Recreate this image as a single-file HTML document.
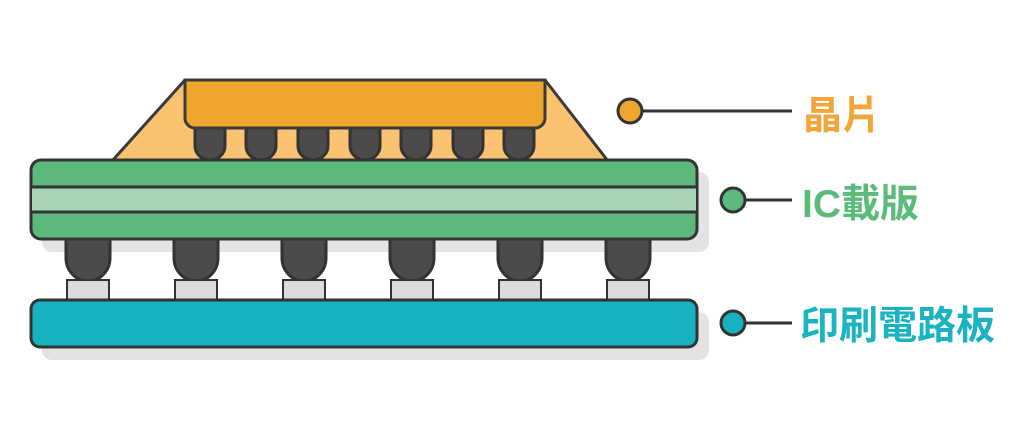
<!DOCTYPE html>
<html><head><meta charset="utf-8"><style>
html,body{margin:0;padding:0;background:#fff;}
svg{display:block}
text{font-family:"Liberation Sans","Noto Sans CJK TC",sans-serif;font-weight:bold;font-size:39px;}
</style></head><body>
<svg width="1024" height="434" viewBox="0 0 1024 434" xmlns="http://www.w3.org/2000/svg">
<g fill="#e3e3e3">
<rect x="42" y="172" width="667" height="80" rx="10"/>
<rect x="42" y="312" width="667" height="48" rx="10"/>
</g>
<polygon points="185,80 545,80 608,161 112,161" fill="#fbc272" stroke="#3a3a3a" stroke-width="3" stroke-linejoin="round"/>
<g fill="#4d4a4b" stroke="#333" stroke-width="3">
<path d="M195,126 v20 a15,14 0 0 0 30,0 v-20z"/>
<path d="M246,126 v20 a15,14 0 0 0 30,0 v-20z"/>
<path d="M298,126 v20 a15,14 0 0 0 30,0 v-20z"/>
<path d="M350,126 v20 a15,14 0 0 0 30,0 v-20z"/>
<path d="M401,126 v20 a15,14 0 0 0 30,0 v-20z"/>
<path d="M453,126 v20 a15,14 0 0 0 30,0 v-20z"/>
<path d="M504,126 v20 a15,14 0 0 0 30,0 v-20z"/>
</g>
<path d="M185,80 H545 V118 a10,10 0 0 1 -10,10 H195 a10,10 0 0 1 -10,-10 Z" fill="#f0a52e" stroke="#3a3a3a" stroke-width="3"/>
<g fill="#4d4a4b" stroke="#333" stroke-width="3">
<path d="M66,236 v22 a21,22 0 0 0 44,0 v-22z"/>
<path d="M174,236 v22 a21,22 0 0 0 44,0 v-22z"/>
<path d="M282,236 v22 a21,22 0 0 0 44,0 v-22z"/>
<path d="M390,236 v22 a21,22 0 0 0 44,0 v-22z"/>
<path d="M498,236 v22 a21,22 0 0 0 44,0 v-22z"/>
<path d="M606,236 v22 a21,22 0 0 0 44,0 v-22z"/>
</g>
<g fill="#dcdcdc" stroke="#333" stroke-width="2">
<rect x="67" y="280" width="42" height="21"/>
<rect x="175" y="280" width="42" height="21"/>
<rect x="283" y="280" width="42" height="21"/>
<rect x="391" y="280" width="42" height="21"/>
<rect x="499" y="280" width="42" height="21"/>
<rect x="607" y="280" width="42" height="21"/>
</g>
<rect x="31" y="160" width="666" height="79" rx="10" fill="#5db97b" stroke="#333" stroke-width="3"/>
<rect x="32" y="187" width="664" height="25" fill="#a8d4b6"/>
<line x1="31" y1="187" x2="697" y2="187" stroke="#333" stroke-width="3"/>
<line x1="31" y1="212" x2="697" y2="212" stroke="#333" stroke-width="3"/>
<rect x="31" y="300" width="666" height="47" rx="9" fill="#17b1c0" stroke="#333" stroke-width="3"/>
<g stroke="#333" stroke-width="3">
<line x1="640" y1="111" x2="792" y2="111"/>
<line x1="745" y1="200" x2="792" y2="200"/>
<line x1="745" y1="323" x2="792" y2="323"/>
</g>
<circle cx="630" cy="111" r="12" fill="#f0a52e" stroke="#333" stroke-width="3"/>
<circle cx="733" cy="200" r="12" fill="#5db97b" stroke="#333" stroke-width="3"/>
<circle cx="733" cy="323" r="12" fill="#17b1c0" stroke="#333" stroke-width="3"/>
<text x="803" y="129" fill="#f3a53a">晶片</text>
<text x="802" y="217" fill="#5bbb78">IC載版</text>
<text x="800" y="339" fill="#19b3c4">印刷電路板</text>
</svg>
</body></html>
